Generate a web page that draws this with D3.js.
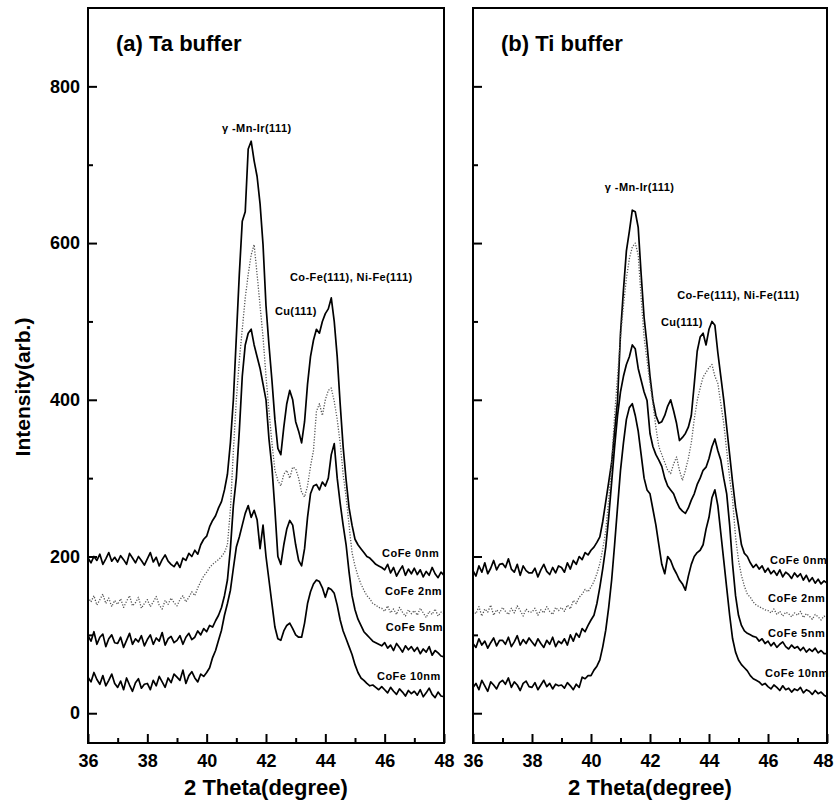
<!DOCTYPE html>
<html>
<head>
<meta charset="utf-8">
<script src="https://cdn.jsdelivr.net/npm/d3@7"></script>
<style>
  html, body { margin: 0; padding: 0; background: #fff; }
  svg { display: block; }
  text { font-family: "Liberation Sans", Arial, Helvetica, sans-serif; font-weight: bold; fill: #000; }
</style>
</head>
<body>
<svg id="chart" width="834" height="802"></svg>
<script>
// ---------------- DATA ----------------
// 2-theta sampling grid (degrees), 36.0 .. 48.0 step 0.1
const theta = d3.range(121).map(i => +(36 + i * 0.1).toFixed(1));

const xTickValues = [36, 38, 40, 42, 44, 46, 48];
const xMinorTickValues = [37, 39, 41, 43, 45, 47];
const yTickValues = [0, 200, 400, 600, 800];
const yMinorTickValues = [100, 300, 500, 700];

const panelTitles = ["(a) Ta buffer", "(b) Ti buffer"];
const seriesNames = ["CoFe 0nm", "CoFe 2nm", "CoFe 5nm", "CoFe 10nm"];

// (a) Ta buffer
const taCoFe0 = [
  198,192,200,195,203,190,197,205,194,199,
  193,201,196,190,204,198,192,200,195,189,
  197,205,193,199,188,196,202,194,190,187,
  193,186,198,195,204,200,208,203,215,222,
  226,238,246,252,262,270,285,305,345,400,
  480,560,628,640,720,730,705,685,650,598,
  520,470,425,375,338,330,365,395,412,400,
  372,360,345,372,420,455,476,490,485,500,
  510,516,530,500,455,395,340,298,262,240,
  222,215,210,205,200,198,194,190,188,186,
  183,190,179,186,175,182,188,176,184,178,
  185,177,183,174,181,176,186,178,173,180,
  176];
const taCoFe2 = [
  148,142,150,138,145,152,140,147,136,144,
  139,146,135,143,150,137,141,148,134,140,
  145,136,142,149,138,133,144,139,147,141,
  137,145,150,142,148,155,150,160,168,175,
  180,186,190,193,196,200,205,215,260,335,
  400,450,490,530,560,585,598,560,520,480,
  430,386,345,310,297,290,305,310,300,314,
  312,300,282,276,290,315,335,385,395,380,
  400,412,415,398,375,345,305,276,240,205,
  188,175,165,157,150,146,140,138,135,134,
  130,137,128,133,126,135,129,124,132,127,
  131,125,134,128,122,130,126,133,124,129,
  127];
const taCoFe5 = [
  99,92,104,88,97,101,85,95,100,90,
  89,97,84,93,102,88,95,91,99,86,
  94,100,88,96,92,103,87,95,98,90,
  93,99,88,97,102,94,97,105,100,108,
  104,112,110,118,125,135,150,170,210,265,
  300,360,430,470,485,490,470,455,440,420,
  400,350,314,260,200,190,215,235,246,240,
  215,195,188,210,250,280,290,292,285,295,
  290,300,330,344,300,268,240,215,180,150,
  132,120,112,104,100,96,92,90,88,86,
  90,83,87,80,89,84,78,86,81,85,
  79,84,76,82,78,85,74,80,77,73,
  72];
const taCoFe10 = [
  46,40,52,43,37,48,35,42,50,38,
  33,41,30,45,36,28,39,44,32,37,
  38,30,42,35,47,40,33,45,39,50,
  46,42,55,38,48,53,45,40,50,47,
  52,58,71,80,93,106,125,140,157,185,
  212,225,240,255,265,250,259,247,210,240,
  200,170,140,110,95,93,105,112,115,108,
  100,97,97,115,140,155,165,170,168,160,
  148,160,158,153,138,119,105,95,85,75,
  62,52,45,42,38,35,36,33,30,34,
  30,26,33,28,24,31,27,22,29,25,
  28,23,30,21,26,32,24,20,27,22,
  21];

// (b) Ti buffer
const tiCoFe0 = [
  182,175,188,180,192,178,185,195,183,190,
  191,186,197,184,180,190,176,188,182,179,
  179,185,174,183,190,181,177,186,179,188,
  186,180,192,184,195,190,200,196,205,202,
  208,212,218,225,245,270,295,320,360,399,
  485,540,590,615,642,640,620,560,505,470,
  430,399,380,370,372,380,392,400,386,370,
  348,352,357,365,380,420,462,480,485,470,
  490,500,495,460,430,400,365,330,295,263,
  240,215,204,200,192,186,190,184,188,180,
  185,178,182,176,183,174,180,177,172,179,
  174,178,170,176,168,173,166,171,165,169,
  166];
const tiCoFe2 = [
  131,127,136,124,133,129,138,125,132,128,
  135,130,126,134,128,137,131,124,133,129,
  129,134,125,132,128,136,130,126,135,131,
  135,130,138,133,144,140,148,152,158,155,
  161,168,178,191,210,233,272,320,380,430,
  480,520,555,580,595,600,585,530,480,450,
  421,395,365,340,330,320,310,306,318,327,
  310,297,310,325,345,375,399,415,429,435,
  441,445,430,421,395,370,335,300,272,225,
  195,176,162,152,148,142,138,136,134,132,
  131,128,133,126,130,124,129,127,123,128,
  125,130,122,127,124,120,126,123,119,124,
  122];
const tiCoFe5 = [
  89,84,95,87,92,83,90,96,86,93,
  93,88,97,85,91,99,87,94,89,96,
  91,86,95,89,84,93,88,97,85,92,
  89,95,87,100,92,102,97,108,104,112,
  119,125,140,161,185,212,250,295,340,380,
  410,430,445,455,470,465,440,425,410,399,
  357,340,330,323,315,300,290,285,280,270,
  262,258,255,262,272,280,292,300,310,314,
  325,340,350,335,323,300,280,240,190,150,
  125,112,105,102,100,98,97,92,95,89,
  92,86,90,84,88,91,85,82,87,83,
  85,80,84,78,82,79,83,77,80,76,
  76];
const tiCoFe10 = [
  33,38,30,42,35,28,40,36,31,39,
  42,37,45,33,40,36,29,38,41,34,
  33,39,30,36,42,34,38,31,37,35,
  36,32,39,35,30,37,33,46,44,48,
  48,55,60,68,85,106,135,170,215,263,
  310,345,375,390,395,380,360,330,300,285,
  280,260,240,215,190,178,200,195,185,178,
  170,165,157,175,190,200,205,208,215,235,
  250,275,285,265,230,195,160,125,95,78,
  68,62,58,54,48,44,42,40,36,38,
  34,31,36,33,29,35,30,32,27,31,
  29,33,26,30,28,24,29,25,27,23,
  21];

// annotation anchors (data units: theta, intensity)
const taPeakLabels = [
  { text: "\u03B3 -Mn-Ir(111)", t: 40.52, v: 742 },
  { text: "Co-Fe(111), Ni-Fe(111)", t: 42.81, v: 551 },
  { text: "Cu(111)", t: 42.30, v: 508 }
];
const tiPeakLabels = [
  { text: "\u03B3 -Mn-Ir(111)", t: 40.47, v: 667 },
  { text: "Co-Fe(111), Ni-Fe(111)", t: 42.92, v: 529 },
  { text: "Cu(111)", t: 42.37, v: 494 }
];
const taSeriesLabelPos = [ {t:45.91, v:199}, {t:46.01, v:151}, {t:46.04, v:105}, {t:45.74, v:43} ];
const tiSeriesLabelPos = [ {t:46.07, v:191}, {t:46.00, v:142}, {t:46.00, v:97}, {t:45.90, v:46} ];

// ---------------- DRAW ----------------
const svg = d3.select("#chart");
const plotTop = 8, plotBottom = 743;
const y = d3.scaleLinear().domain([-38, 900]).range([plotBottom, plotTop]);

const panels = [
  { x0: 88, x1: 444, title: panelTitles[0], series: [taCoFe0, taCoFe2, taCoFe5, taCoFe10],
    peaks: taPeakLabels, labelPos: taSeriesLabelPos, yLabels: true },
  { x0: 473, x1: 827, title: panelTitles[1], series: [tiCoFe0, tiCoFe2, tiCoFe5, tiCoFe10],
    peaks: tiPeakLabels, labelPos: tiSeriesLabelPos, yLabels: false }
];

panels.forEach((p, pi) => {
  const x = d3.scaleLinear().domain([36, 48]).range([p.x0, p.x1]);
  const g = svg.append("g");

  // curves
  const line = d3.line().x((d, i) => x(theta[i])).y(d => y(d));
  p.series.forEach((s, si) => {
    g.append("path")
      .datum(s)
      .attr("d", line)
      .attr("fill", "none")
      .attr("stroke", si === 1 ? "#555" : "#000")
      .attr("stroke-width", si === 1 ? 1.3 : 1.7)
      .attr("stroke-dasharray", si === 1 ? "1.2,1.6" : null)
      .attr("stroke-linejoin", "round");
  });

  // x axis (inward ticks)
  const xAxis = g.append("g").attr("transform", `translate(0,${plotBottom})`)
    .call(d3.axisBottom(x).tickValues(xTickValues).tickSizeInner(-9).tickSizeOuter(0).tickPadding(11).tickFormat(d3.format("d")));
  xAxis.select(".domain").remove();
  xAxis.selectAll("text").style("font-size", "18px").style("font-family", "'Liberation Sans', Arial, sans-serif").style("font-weight", "bold");
  xAxis.selectAll("line").attr("stroke-width", 2);
  if (pi === 1) {
    // keep the last label inside the page
    xAxis.selectAll(".tick").filter(d => d === 48).select("text")
      .attr("text-anchor", "end").attr("x", 833 - p.x1);
  }
  const xMinor = g.append("g").attr("transform", `translate(0,${plotBottom})`)
    .call(d3.axisBottom(x).tickValues(xMinorTickValues).tickSizeInner(-5).tickSizeOuter(0).tickFormat(""));
  xMinor.select(".domain").remove();
  xMinor.selectAll("line").attr("stroke-width", 2);

  // y axis (inward ticks)
  const yAxis = g.append("g").attr("transform", `translate(${p.x0},0)`)
    .call(d3.axisLeft(y).tickValues(yTickValues).tickSizeInner(-9).tickSizeOuter(0).tickPadding(8)
      .tickFormat(p.yLabels ? d3.format("d") : ""));
  yAxis.select(".domain").remove();
  yAxis.selectAll("text").style("font-size", "18px").style("font-family", "'Liberation Sans', Arial, sans-serif").style("font-weight", "bold");
  yAxis.selectAll("line").attr("stroke-width", 2);
  const yMinor = g.append("g").attr("transform", `translate(${p.x0},0)`)
    .call(d3.axisLeft(y).tickValues(yMinorTickValues).tickSizeInner(-5).tickSizeOuter(0).tickFormat(""));
  yMinor.select(".domain").remove();
  yMinor.selectAll("line").attr("stroke-width", 2);

  // frame
  g.append("rect")
    .attr("x", p.x0).attr("y", plotTop)
    .attr("width", p.x1 - p.x0).attr("height", plotBottom - plotTop)
    .attr("fill", "none").attr("stroke", "#000").attr("stroke-width", 2);

  // panel title
  g.append("text").attr("x", x(36) + 28).attr("y", 51)
    .style("font-size", "22px").text(p.title);

  // peak annotations
  p.peaks.forEach(a => {
    g.append("text").attr("x", x(a.t)).attr("y", y(a.v))
      .style("font-size", "11px").style("letter-spacing", "0.4px").text(a.text);
  });

  // series labels
  p.labelPos.forEach((a, i) => {
    g.append("text").attr("x", x(a.t)).attr("y", y(a.v))
      .style("font-size", "11px").style("letter-spacing", "0.5px").text(seriesNames[i]);
  });

  // x axis title
  g.append("text").attr("x", (p.x0 + p.x1) / 2).attr("y", 795)
    .attr("text-anchor", "middle").style("font-size", "22px").text("2 Theta(degree)");
});

// y axis title
svg.append("text")
  .attr("transform", "translate(30,387) rotate(-90)")
  .attr("text-anchor", "middle").style("font-size", "21px").text("Intensity(arb.)");
</script>
</body>
</html>
